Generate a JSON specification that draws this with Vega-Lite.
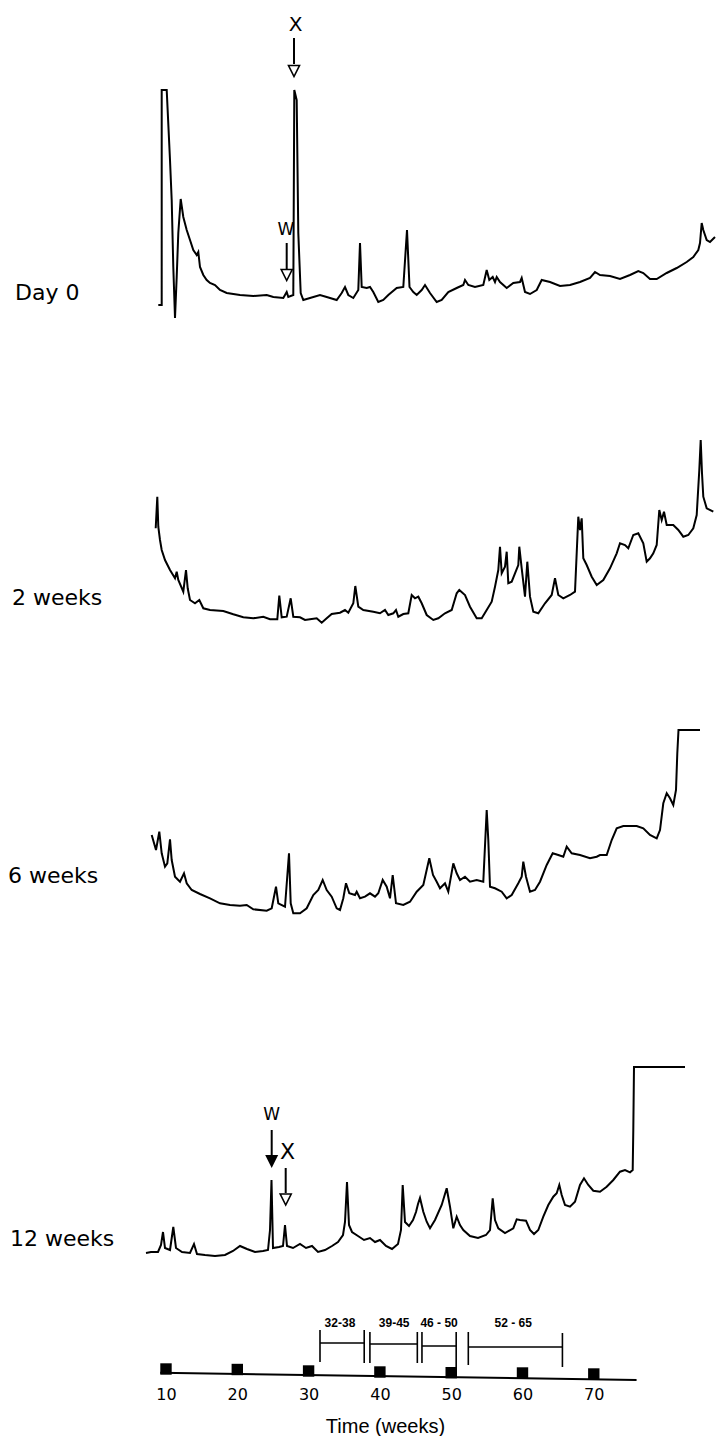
{
 "$schema": "https://vega.github.io/schema/vega-lite/v6.json",
 "background": "white",
 "padding": 0,
 "spacing": 0,
 "bounds": "flush",
 "config": {"view": {"stroke": null}, "text": {"font": "DejaVu Sans", "color": "black"}},
 "resolve": {"scale": {"x": "independent", "y": "independent"}},
 "datasets": {
  "day0": [{"t":15.83,"v":-5},{"t":16.17,"v":-5},{"t":16.17,"v":210},{"t":16.67,"v":210},{"t":17.0,"v":140},{"t":17.17,"v":100},{"t":17.33,"v":33},{"t":17.5,"v":-18},{"t":17.67,"v":23},{"t":17.83,"v":67},{"t":18.07,"v":101},{"t":18.33,"v":83},{"t":18.67,"v":70},{"t":19.0,"v":60},{"t":19.33,"v":50},{"t":19.67,"v":45},{"t":19.83,"v":48},{"t":20.0,"v":33},{"t":20.33,"v":25},{"t":20.67,"v":20},{"t":21.0,"v":17},{"t":21.5,"v":15},{"t":22.0,"v":10},{"t":22.67,"v":7},{"t":24.0,"v":5},{"t":25.33,"v":4},{"t":26.67,"v":5},{"t":27.33,"v":3},{"t":28.33,"v":2},{"t":28.67,"v":8},{"t":28.83,"v":3},{"t":29.33,"v":5},{"t":29.43,"v":210},{"t":29.67,"v":200},{"t":29.83,"v":67},{"t":30.07,"v":7},{"t":30.33,"v":0},{"t":31.0,"v":2},{"t":32.0,"v":5},{"t":32.67,"v":3},{"t":33.67,"v":0},{"t":34.17,"v":7},{"t":34.5,"v":13},{"t":34.83,"v":5},{"t":35.33,"v":2},{"t":35.83,"v":10},{"t":36.0,"v":57},{"t":36.17,"v":13},{"t":36.67,"v":12},{"t":37.0,"v":13},{"t":37.33,"v":8},{"t":37.83,"v":-2},{"t":38.33,"v":0},{"t":38.83,"v":5},{"t":39.67,"v":12},{"t":40.33,"v":13},{"t":40.7,"v":70},{"t":40.95,"v":13},{"t":41.33,"v":8},{"t":41.67,"v":5},{"t":42.17,"v":10},{"t":42.5,"v":15},{"t":43.0,"v":7},{"t":43.67,"v":-2},{"t":44.17,"v":0},{"t":44.83,"v":8},{"t":45.67,"v":12},{"t":46.33,"v":15},{"t":46.5,"v":20},{"t":46.83,"v":15},{"t":47.5,"v":13},{"t":48.33,"v":15},{"t":48.67,"v":30},{"t":48.93,"v":20},{"t":49.27,"v":23},{"t":49.5,"v":18},{"t":49.67,"v":23},{"t":50.0,"v":18},{"t":50.67,"v":12},{"t":51.33,"v":17},{"t":52.0,"v":18},{"t":52.17,"v":22},{"t":52.5,"v":8},{"t":53.0,"v":6},{"t":53.67,"v":10},{"t":54.17,"v":20},{"t":55.0,"v":18},{"t":56.0,"v":14},{"t":57.0,"v":15},{"t":58.0,"v":18},{"t":59.0,"v":22},{"t":59.5,"v":28},{"t":60.0,"v":25},{"t":61.0,"v":24},{"t":62.0,"v":21},{"t":63.0,"v":25},{"t":63.83,"v":29},{"t":64.33,"v":27},{"t":65.0,"v":21},{"t":65.67,"v":21},{"t":66.67,"v":27},{"t":67.67,"v":32},{"t":68.67,"v":38},{"t":69.33,"v":43},{"t":69.83,"v":50},{"t":70.0,"v":57},{"t":70.17,"v":77},{"t":70.33,"v":70},{"t":70.67,"v":60},{"t":71.0,"v":58},{"t":71.5,"v":63}],
  "wk2": [{"t":15.57,"v":89.7},{"t":15.73,"v":121.3},{"t":15.83,"v":91.3},{"t":16.0,"v":78},{"t":16.17,"v":68},{"t":16.5,"v":58},{"t":17.0,"v":48},{"t":17.5,"v":39.7},{"t":17.67,"v":46.3},{"t":17.83,"v":38},{"t":18.33,"v":26.3},{"t":18.6,"v":48},{"t":18.77,"v":29.7},{"t":19.0,"v":18},{"t":19.5,"v":14.7},{"t":19.93,"v":18},{"t":20.33,"v":9.7},{"t":21.0,"v":8},{"t":22.33,"v":7},{"t":23.33,"v":3.7},{"t":24.33,"v":0.7},{"t":25.33,"v":-0.3},{"t":26.33,"v":1.3},{"t":27.0,"v":-1.3},{"t":27.73,"v":-1.3},{"t":27.93,"v":22.3},{"t":28.17,"v":0.7},{"t":28.67,"v":1.3},{"t":29.07,"v":19.7},{"t":29.33,"v":1.3},{"t":30.0,"v":0.7},{"t":30.5,"v":-2},{"t":31.0,"v":-1.3},{"t":31.67,"v":-0.3},{"t":32.17,"v":-4.7},{"t":32.67,"v":-0.3},{"t":33.17,"v":4},{"t":34.0,"v":5.3},{"t":34.5,"v":8},{"t":34.83,"v":5.3},{"t":35.33,"v":14.7},{"t":35.53,"v":32},{"t":35.83,"v":11.3},{"t":36.33,"v":8},{"t":37.33,"v":6.3},{"t":38.0,"v":4.7},{"t":38.5,"v":8},{"t":38.83,"v":3},{"t":39.33,"v":4.7},{"t":39.6,"v":8},{"t":39.83,"v":1.3},{"t":40.33,"v":4},{"t":40.83,"v":4.7},{"t":41.17,"v":23},{"t":41.5,"v":19.7},{"t":41.83,"v":21.3},{"t":42.17,"v":14.7},{"t":42.67,"v":3},{"t":43.33,"v":-2},{"t":43.83,"v":-0.3},{"t":44.5,"v":4.7},{"t":45.17,"v":8},{"t":45.67,"v":24.7},{"t":45.93,"v":28},{"t":46.5,"v":23},{"t":47.0,"v":11.3},{"t":47.67,"v":-0.3},{"t":48.17,"v":-0.3},{"t":48.67,"v":8},{"t":49.17,"v":16.3},{"t":49.5,"v":31.3},{"t":49.83,"v":48},{"t":50.0,"v":71.3},{"t":50.17,"v":44.7},{"t":50.5,"v":51.3},{"t":50.67,"v":66.3},{"t":50.83,"v":34.7},{"t":51.17,"v":36.3},{"t":51.5,"v":44.7},{"t":51.83,"v":53},{"t":51.93,"v":71.3},{"t":52.17,"v":49.7},{"t":52.5,"v":21.3},{"t":52.73,"v":56.3},{"t":53.0,"v":21.3},{"t":53.33,"v":6.3},{"t":53.83,"v":4.7},{"t":54.5,"v":14.7},{"t":55.17,"v":23},{"t":55.5,"v":39.7},{"t":55.83,"v":23},{"t":56.33,"v":19.7},{"t":57.0,"v":23},{"t":57.5,"v":26.3},{"t":57.83,"v":101.3},{"t":58.0,"v":88},{"t":58.17,"v":99.7},{"t":58.33,"v":59.7},{"t":58.67,"v":53},{"t":59.17,"v":41.3},{"t":59.67,"v":33},{"t":60.33,"v":38},{"t":61.0,"v":49.7},{"t":61.67,"v":64.7},{"t":62.0,"v":74.7},{"t":62.5,"v":73},{"t":62.83,"v":69.7},{"t":63.33,"v":83},{"t":63.83,"v":84.7},{"t":64.33,"v":74.7},{"t":64.67,"v":56.3},{"t":65.0,"v":59.7},{"t":65.33,"v":64.7},{"t":65.67,"v":73},{"t":65.93,"v":108},{"t":66.17,"v":98},{"t":66.4,"v":106.3},{"t":66.67,"v":93},{"t":67.33,"v":93},{"t":67.83,"v":88},{"t":68.33,"v":81.3},{"t":68.83,"v":83},{"t":69.33,"v":89.7},{"t":69.67,"v":103},{"t":69.93,"v":148},{"t":70.07,"v":178},{"t":70.2,"v":144.7},{"t":70.33,"v":121.3},{"t":70.67,"v":109.7},{"t":71.33,"v":106.3}],
  "wk6": [{"t":15.17,"v":75},{"t":15.6,"v":60},{"t":15.93,"v":78.3},{"t":16.17,"v":56.7},{"t":16.5,"v":43.3},{"t":16.73,"v":46.7},{"t":17.0,"v":70.7},{"t":17.17,"v":50},{"t":17.5,"v":33.3},{"t":18.0,"v":28.3},{"t":18.4,"v":36.7},{"t":18.67,"v":26.7},{"t":19.17,"v":20},{"t":20.0,"v":16},{"t":21.0,"v":11.7},{"t":22.0,"v":6.7},{"t":23.0,"v":5},{"t":24.0,"v":4.3},{"t":24.67,"v":5},{"t":25.33,"v":0.7},{"t":26.67,"v":-0.7},{"t":27.17,"v":1.7},{"t":27.6,"v":23.3},{"t":27.83,"v":6.7},{"t":28.5,"v":3.3},{"t":28.9,"v":56.7},{"t":29.07,"v":6.7},{"t":29.33,"v":-3.3},{"t":30.0,"v":-3.3},{"t":30.67,"v":1.7},{"t":31.33,"v":15},{"t":31.83,"v":20},{"t":32.27,"v":30},{"t":32.67,"v":20},{"t":33.17,"v":13.3},{"t":33.67,"v":1.7},{"t":34.0,"v":0},{"t":34.33,"v":11.7},{"t":34.6,"v":26.7},{"t":34.93,"v":16.7},{"t":35.5,"v":15},{"t":35.67,"v":18.3},{"t":36.0,"v":11.7},{"t":36.5,"v":13.3},{"t":37.0,"v":16.7},{"t":37.5,"v":13.3},{"t":37.83,"v":16.7},{"t":38.27,"v":30},{"t":38.67,"v":23.3},{"t":39.0,"v":11.7},{"t":39.27,"v":35},{"t":39.6,"v":6.7},{"t":40.33,"v":5},{"t":41.0,"v":8.3},{"t":41.67,"v":18.3},{"t":42.33,"v":25},{"t":42.93,"v":51.7},{"t":43.3,"v":35},{"t":43.67,"v":28.3},{"t":44.0,"v":21.7},{"t":44.5,"v":26.7},{"t":44.83,"v":18.3},{"t":45.33,"v":46.7},{"t":45.67,"v":36.7},{"t":46.0,"v":30},{"t":46.5,"v":33.3},{"t":47.0,"v":28.3},{"t":47.67,"v":30},{"t":48.33,"v":28.3},{"t":48.67,"v":100},{"t":48.83,"v":70},{"t":49.0,"v":23.3},{"t":49.5,"v":21.7},{"t":50.17,"v":18.3},{"t":50.67,"v":11.7},{"t":51.17,"v":15},{"t":51.83,"v":26.7},{"t":52.17,"v":33.3},{"t":52.33,"v":48.3},{"t":52.6,"v":33.3},{"t":53.0,"v":18.3},{"t":53.5,"v":20},{"t":54.0,"v":28.3},{"t":54.67,"v":45},{"t":55.27,"v":56.7},{"t":55.83,"v":55},{"t":56.33,"v":53.3},{"t":56.67,"v":63.3},{"t":57.17,"v":56.7},{"t":58.0,"v":55},{"t":59.0,"v":51.7},{"t":59.67,"v":53.3},{"t":60.0,"v":55},{"t":60.67,"v":55},{"t":61.17,"v":70},{"t":61.67,"v":81.7},{"t":62.33,"v":84},{"t":63.67,"v":84},{"t":64.33,"v":81.7},{"t":65.0,"v":75},{"t":65.67,"v":71.7},{"t":66.0,"v":80},{"t":66.33,"v":106.7},{"t":66.67,"v":116.7},{"t":67.0,"v":111.7},{"t":67.33,"v":105},{"t":67.6,"v":120},{"t":67.73,"v":156.7},{"t":67.85,"v":180},{"t":70.0,"v":180}],
  "wk12": [{"t":14.6,"v":-3},{"t":15.1,"v":-2},{"t":15.8,"v":-2},{"t":16.1,"v":5},{"t":16.3,"v":18},{"t":16.5,"v":2},{"t":17.0,"v":0},{"t":17.33,"v":23},{"t":17.6,"v":2},{"t":18.2,"v":-2},{"t":19.0,"v":-3},{"t":19.4,"v":6},{"t":19.7,"v":-4},{"t":20.5,"v":-5},{"t":21.5,"v":-6},{"t":22.5,"v":-5},{"t":23.3,"v":-1},{"t":24.0,"v":4},{"t":24.7,"v":1},{"t":25.5,"v":-2},{"t":26.3,"v":-1},{"t":26.8,"v":0},{"t":27.0,"v":20},{"t":27.15,"v":70},{"t":27.3,"v":2},{"t":27.9,"v":3},{"t":28.3,"v":4},{"t":28.5,"v":25},{"t":28.7,"v":4},{"t":29.3,"v":2},{"t":30.0,"v":6},{"t":30.6,"v":2},{"t":31.2,"v":4},{"t":31.8,"v":-2},{"t":32.5,"v":0},{"t":33.2,"v":4},{"t":33.8,"v":8},{"t":34.3,"v":15},{"t":34.5,"v":28},{"t":34.7,"v":68},{"t":34.9,"v":25},{"t":35.2,"v":18},{"t":35.8,"v":14},{"t":36.4,"v":10},{"t":37.0,"v":12},{"t":37.5,"v":8},{"t":38.0,"v":10},{"t":38.6,"v":4},{"t":39.2,"v":1},{"t":39.8,"v":6},{"t":40.1,"v":20},{"t":40.27,"v":65},{"t":40.5,"v":28},{"t":40.9,"v":24},{"t":41.3,"v":30},{"t":41.6,"v":38},{"t":41.8,"v":46},{"t":42.0,"v":52},{"t":42.33,"v":38.3},{"t":42.67,"v":28.3},{"t":43.0,"v":21.7},{"t":43.5,"v":30},{"t":44.17,"v":45},{"t":44.67,"v":61.7},{"t":45.0,"v":43.3},{"t":45.33,"v":21.7},{"t":45.67,"v":33.3},{"t":46.0,"v":25},{"t":46.33,"v":20},{"t":47.0,"v":14},{"t":47.8,"v":12},{"t":48.6,"v":15},{"t":49.0,"v":20},{"t":49.27,"v":51.7},{"t":49.5,"v":30},{"t":49.83,"v":21.7},{"t":50.5,"v":17},{"t":51.33,"v":21.7},{"t":51.67,"v":30.7},{"t":52.0,"v":30},{"t":52.6,"v":29.3},{"t":53.0,"v":20},{"t":53.4,"v":16},{"t":53.83,"v":20},{"t":54.33,"v":33.3},{"t":54.83,"v":45},{"t":55.33,"v":53.3},{"t":55.67,"v":56.7},{"t":55.93,"v":65},{"t":56.17,"v":55},{"t":56.5,"v":45},{"t":57.0,"v":43.3},{"t":57.5,"v":48.3},{"t":58.0,"v":65},{"t":58.4,"v":71.7},{"t":58.83,"v":65},{"t":59.33,"v":59.3},{"t":60.0,"v":58.3},{"t":60.67,"v":63.3},{"t":61.33,"v":70},{"t":62.0,"v":78.3},{"t":62.5,"v":80},{"t":63.0,"v":77.7},{"t":63.27,"v":80},{"t":63.33,"v":120},{"t":63.4,"v":183},{"t":68.5,"v":183}],
  "squares": [{"w":10,"v":9},{"w":20,"v":8.5},{"w":30,"v":7},{"w":40,"v":6},{"w":50,"v":5.3},{"w":60,"v":5},{"w":70,"v":4}],
  "brackTicks": [{"w":31.6,"v":48,"v2":16},{"w":37.8,"v":48,"v2":15},{"w":38.6,"v":46,"v2":15},{"w":45.25,"v":46,"v2":15},{"w":45.9,"v":46,"v2":15},{"w":50.7,"v":46,"v2":1},{"w":52.4,"v":46,"v2":13},{"w":65.6,"v":45,"v2":11}],
  "brackSpans": [{"w":31.6,"w2":37.8,"v":35},{"w":38.6,"w2":45.25,"v":34},{"w":45.9,"w2":50.7,"v":32},{"w":52.4,"w2":65.6,"v":31}],
  "brackLabels": [{"w":34.4,"v":55,"txt":"32-38"},{"w":42.0,"v":55,"txt":"39-45"},{"w":48.3,"v":55,"txt":"46 - 50"},{"w":58.7,"v":55,"txt":"52 - 65"}]
 },
 "vconcat": [
  {
   "width": 718, "height": 330,
   "layer": [
    {"data": {"name": "day0"}, "mark": {"type": "line", "color": "black", "strokeWidth": 2},
     "encoding": {"x": {"field": "t", "type": "quantitative", "scale": {"domain": [0, 71.8], "nice": false, "zero": false}, "axis": null},
                  "y": {"field": "v", "type": "quantitative", "scale": {"domain": [-30, 300], "nice": false, "zero": false}, "axis": null},
                  "order": {"value": null}}},
    {"data": {"values": [{"t": 1.5, "v": 7, "txt": "Day 0"}]}, "mark": {"type": "text", "align": "left", "baseline": "middle", "fontSize": 22},
     "encoding": {"x": {"field": "t", "type": "quantitative", "axis": null}, "y": {"field": "v", "type": "quantitative", "axis": null}, "text": {"field": "txt"}}},
    {"data": {"values": [{"t": 29.57, "v": 275.5, "txt": "X"}]}, "mark": {"type": "text", "align": "center", "baseline": "middle", "fontSize": 20},
     "encoding": {"x": {"field": "t", "type": "quantitative", "axis": null}, "y": {"field": "v", "type": "quantitative", "axis": null}, "text": {"field": "txt"}}},
    {"data": {"values": [{"t": 28.6, "v": 70, "txt": "W"}]}, "mark": {"type": "text", "align": "center", "baseline": "middle", "fontSize": 17},
     "encoding": {"x": {"field": "t", "type": "quantitative", "axis": null}, "y": {"field": "v", "type": "quantitative", "axis": null}, "text": {"field": "txt"}}},
    {"data": {"values": [{"t": 29.4, "v": 262, "v2": 236}, {"t": 28.67, "v": 57, "v2": 31}]}, "mark": {"type": "rule", "color": "black", "strokeWidth": 2},
     "encoding": {"x": {"field": "t", "type": "quantitative", "axis": null}, "y": {"field": "v", "type": "quantitative", "axis": null}, "y2": {"field": "v2"}}},
    {"data": {"values": [{"t": 29.4, "v": 229}, {"t": 28.67, "v": 25}]}, "mark": {"type": "point", "shape": "M-1,-1L1,-1L0,1Z", "filled": false, "color": "black", "strokeWidth": 1.6, "size": 121, "opacity": 1},
     "encoding": {"x": {"field": "t", "type": "quantitative", "axis": null}, "y": {"field": "v", "type": "quantitative", "axis": null}}}
   ]
  },
  {
   "width": 718, "height": 310,
   "layer": [
    {"data": {"name": "wk2"}, "mark": {"type": "line", "color": "black", "strokeWidth": 2},
     "encoding": {"x": {"field": "t", "type": "quantitative", "scale": {"domain": [0, 71.8], "nice": false, "zero": false}, "axis": null},
                  "y": {"field": "v", "type": "quantitative", "scale": {"domain": [-22, 288], "nice": false, "zero": false}, "axis": null},
                  "order": {"value": null}}},
    {"data": {"values": [{"t": 1.2, "v": 20, "txt": "2 weeks"}]}, "mark": {"type": "text", "align": "left", "baseline": "middle", "fontSize": 22},
     "encoding": {"x": {"field": "t", "type": "quantitative", "axis": null}, "y": {"field": "v", "type": "quantitative", "axis": null}, "text": {"field": "txt"}}}
   ]
  },
  {
   "width": 718, "height": 290,
   "layer": [
    {"data": {"name": "wk6"}, "mark": {"type": "line", "color": "black", "strokeWidth": 2},
     "encoding": {"x": {"field": "t", "type": "quantitative", "scale": {"domain": [0, 71.8], "nice": false, "zero": false}, "axis": null},
                  "y": {"field": "v", "type": "quantitative", "scale": {"domain": [-20, 270], "nice": false, "zero": false}, "axis": null},
                  "order": {"value": null}}},
    {"data": {"values": [{"t": 0.8, "v": 34, "txt": "6 weeks"}]}, "mark": {"type": "text", "align": "left", "baseline": "middle", "fontSize": 22},
     "encoding": {"x": {"field": "t", "type": "quantitative", "axis": null}, "y": {"field": "v", "type": "quantitative", "axis": null}, "text": {"field": "txt"}}}
   ]
  },
  {
   "width": 718, "height": 340,
   "layer": [
    {"data": {"name": "wk12"}, "mark": {"type": "line", "color": "black", "strokeWidth": 2},
     "encoding": {"x": {"field": "t", "type": "quantitative", "scale": {"domain": [0, 71.8], "nice": false, "zero": false}, "axis": null},
                  "y": {"field": "v", "type": "quantitative", "scale": {"domain": [-20, 320], "nice": false, "zero": false}, "axis": null},
                  "order": {"value": null}}},
    {"data": {"values": [{"t": 1.0, "v": 11, "txt": "12 weeks"}]}, "mark": {"type": "text", "align": "left", "baseline": "middle", "fontSize": 22},
     "encoding": {"x": {"field": "t", "type": "quantitative", "axis": null}, "y": {"field": "v", "type": "quantitative", "axis": null}, "text": {"field": "txt"}}},
    {"data": {"values": [{"t": 27.17, "v": 135, "txt": "W"}]}, "mark": {"type": "text", "align": "center", "baseline": "middle", "fontSize": 17},
     "encoding": {"x": {"field": "t", "type": "quantitative", "axis": null}, "y": {"field": "v", "type": "quantitative", "axis": null}, "text": {"field": "txt"}}},
    {"data": {"values": [{"t": 28.75, "v": 98, "txt": "X"}]}, "mark": {"type": "text", "align": "center", "baseline": "middle", "fontSize": 22},
     "encoding": {"x": {"field": "t", "type": "quantitative", "axis": null}, "y": {"field": "v", "type": "quantitative", "axis": null}, "text": {"field": "txt"}}},
    {"data": {"values": [{"t": 27.17, "v": 120, "v2": 95}, {"t": 28.57, "v": 82, "v2": 57}]}, "mark": {"type": "rule", "color": "black", "strokeWidth": 2},
     "encoding": {"x": {"field": "t", "type": "quantitative", "axis": null}, "y": {"field": "v", "type": "quantitative", "axis": null}, "y2": {"field": "v2"}}},
    {"data": {"values": [{"t": 27.17, "v": 88.5}]}, "mark": {"type": "point", "shape": "M-1,-1L1,-1L0,1Z", "filled": true, "color": "black", "size": 169, "opacity": 1},
     "encoding": {"x": {"field": "t", "type": "quantitative", "axis": null}, "y": {"field": "v", "type": "quantitative", "axis": null}}},
    {"data": {"values": [{"t": 28.57, "v": 50.5}]}, "mark": {"type": "point", "shape": "M-1,-1L1,-1L0,1Z", "filled": false, "color": "black", "strokeWidth": 1.6, "size": 121, "opacity": 1},
     "encoding": {"x": {"field": "t", "type": "quantitative", "axis": null}, "y": {"field": "v", "type": "quantitative", "axis": null}}}
   ]
  },
  {
   "width": 718, "height": 108,
   "layer": [
    {"data": {"values": [{"w": 9.2, "w2": 76, "v": 5.3, "v2": -2}]}, "mark": {"type": "rule", "color": "black", "strokeWidth": 2},
     "encoding": {"x": {"field": "w", "type": "quantitative", "scale": {"domain": [-13.28, 87.42], "nice": false, "zero": false},
                        "axis": {"values": [10, 20, 30, 40, 50, 60, 70], "domain": false, "ticks": false, "grid": false, "labelFont": "DejaVu Sans", "labelFontSize": 16, "labelColor": "black", "labelPadding": 8, "title": "Time (weeks)", "titleFont": "Liberation Sans", "titleFontSize": 20, "titleFontWeight": "normal", "titleColor": "black", "titleX": 385, "titleY": 54, "titleBaseline": "alphabetic", "titleAlign": "center"}},
                  "x2": {"field": "w2"},
                  "y": {"field": "v", "type": "quantitative", "scale": {"domain": [0, 108], "nice": false, "zero": false}, "axis": null},
                  "y2": {"field": "v2"}}},
    {"data": {"name": "squares"}, "mark": {"type": "point", "shape": "square", "filled": true, "color": "black", "size": 130, "opacity": 1},
     "encoding": {"x": {"field": "w", "type": "quantitative"}, "y": {"field": "v", "type": "quantitative", "axis": null}}},
    {"data": {"name": "brackTicks"}, "mark": {"type": "rule", "color": "black", "strokeWidth": 1.6},
     "encoding": {"x": {"field": "w", "type": "quantitative"}, "y": {"field": "v", "type": "quantitative", "axis": null}, "y2": {"field": "v2"}}},
    {"data": {"name": "brackSpans"}, "mark": {"type": "rule", "color": "black", "strokeWidth": 1.6},
     "encoding": {"x": {"field": "w", "type": "quantitative"}, "x2": {"field": "w2"}, "y": {"field": "v", "type": "quantitative", "axis": null}}},
    {"data": {"name": "brackLabels"}, "mark": {"type": "text", "font": "Liberation Sans", "fontSize": 12, "fontWeight": "bold", "align": "center", "baseline": "middle"},
     "encoding": {"x": {"field": "w", "type": "quantitative"}, "y": {"field": "v", "type": "quantitative", "axis": null}, "text": {"field": "txt"}}}
   ]
  }
 ]
}
